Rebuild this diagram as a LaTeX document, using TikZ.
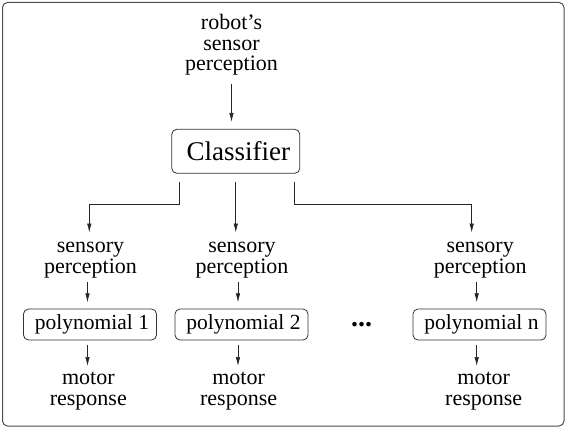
\documentclass[tikz,border=0pt]{standalone}
\usepackage{fontspec}
\setmainfont{Liberation Serif}
\usetikzlibrary{arrows.meta,calc}
\tikzset{
  txt/.style     = {align=center, inner sep=0pt, font=\fontsize{22}{20.5}\selectfont},
  polybox/.style = {draw=black!80, rounded corners=5pt, line width=0.8pt, inner sep=0pt,
                    minimum width=133pt, minimum height=31pt, font=\fontsize{21.5}{24}\selectfont},
  clsbox/.style  = {polybox, minimum width=128pt, minimum height=44pt, font=\fontsize{27}{30}\selectfont},
  ar/.style      = {-{Latex[length=9pt,width=4.5pt]}, line width=0.7pt, draw=black!85},
  outline/.style = {draw=black!70, line width=1pt, rounded corners=5pt},
}
\begin{document}
\begin{tikzpicture}[x=1pt,y=-1pt]
  \useasboundingbox (0,0) rectangle (565,428);
  \draw[outline] (2.5,2.5) rectangle (564,426);

  % ---------------- input and classifier ----------------
  \node[txt] (top) at (231.5,45) {robot's\\sensor\\perception};
  \node[clsbox] (cls) at (235.8,151.3) {\hspace{5pt}Classifier};
  \draw[ar, shorten <=8pt, shorten >=7pt] (top.south) -- (top.south |- cls.north);

  % ---------------- sensory perceptions ----------------
  \node[txt] (sp1) at (90.5,260) {sensory\\perception};
  \node[txt] (sp2) at (242,260) {sensory\\perception};
  \node[txt] (sp3) at (480.2,260) {sensory\\perception};
  \draw[ar, shorten <=8pt, shorten >=9.5pt] ([xshift=7.6pt]cls.south west) -- ++(0,30.7) -| ([xshift=-1.2pt]sp1.north);
  \draw[ar, shorten <=8pt, shorten >=9.5pt] (cls.south) -- (cls.south |- sp2.north);
  \draw[ar, shorten <=8pt, shorten >=9.5pt] ([xshift=-5.7pt]cls.south east) -- ++(0,30.7) -| ([xshift=-8.5pt]sp3.north);

  % ---------------- polynomials ----------------
  \node[polybox] (pl1) at (90,324.5) {\hspace{4pt}polynomial 1};
  \node[polybox] (pl2) at (241.5,324.5) {\hspace{4pt}polynomial 2};
  \node[polybox] (pl3) at (479.5,324.5) {\hspace{4pt}polynomial n};
  \node[inner sep=0pt, font=\fontsize{28}{28}\selectfont\bfseries] (dots) at (361.7,325) {...};
  \draw[ar, shorten <=4pt, shorten >=6.3pt] ($(pl1.north |- sp1.south)+(-2.5,0)$) -- ($(pl1.north)+(-2.5,0)$);
  \draw[ar, shorten <=4pt, shorten >=6.3pt] ($(pl2.north |- sp2.south)+(-3.5,0)$) -- ($(pl2.north)+(-3.5,0)$);
  \draw[ar, shorten <=4pt, shorten >=6.3pt] ($(pl3.north |- sp3.south)+(-2.8,0)$) -- ($(pl3.north)+(-2.8,0)$);

  % ---------------- motor responses ----------------
  \node[txt] (mr1) at (88.3,391) {motor\\response};
  \node[txt] (mr2) at (238.6,391) {motor\\response};
  \node[txt] (mr3) at (483.7,391) {motor\\response};
  \draw[ar, shorten <=5pt, shorten >=6pt] ($(pl1.south)+(-2.5,0)$) -- ($(pl1.south |- mr1.north)+(-2.5,0)$);
  \draw[ar, shorten <=5pt, shorten >=6pt] ($(pl2.south)+(-3.5,0)$) -- ($(pl2.south |- mr2.north)+(-3.5,0)$);
  \draw[ar, shorten <=5pt, shorten >=6pt] ($(pl3.south)+(-2.8,0)$) -- ($(pl3.south |- mr3.north)+(-2.8,0)$);
\end{tikzpicture}
\end{document}
